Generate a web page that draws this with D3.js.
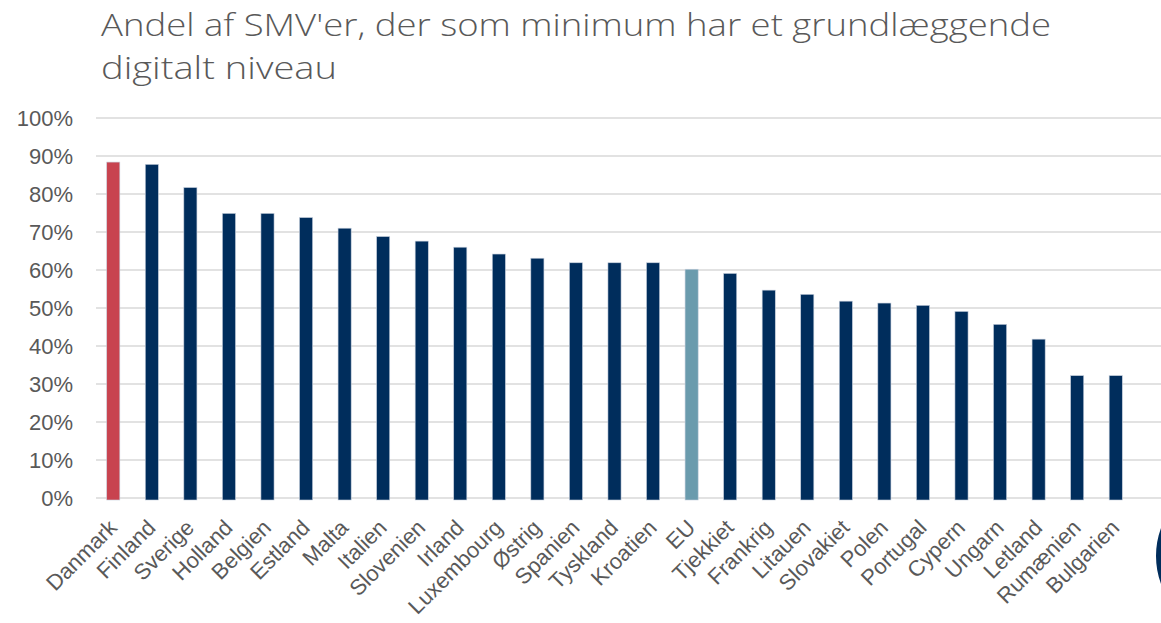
<!DOCTYPE html>
<html>
<head>
<meta charset="utf-8">
<script src="https://cdn.jsdelivr.net/npm/d3@7"></script>
<style>
  html, body { margin: 0; padding: 0; background: #fff; }
  svg { display: block; }
</style>
</head>
<body>
<div id="chart"></div>
<script>
// Share of SMEs with at least a basic level of digital intensity (%)
const countries = ["Danmark", "Finland", "Sverige", "Holland", "Belgien", "Estland", "Malta",
  "Italien", "Slovenien", "Irland", "Luxembourg", "Østrig", "Spanien", "Tyskland", "Kroatien",
  "EU", "Tjekkiet", "Frankrig", "Litauen", "Slovakiet", "Polen", "Portugal", "Cypern",
  "Ungarn", "Letland", "Rumænien", "Bulgarien"];
const shares = [88.4, 87.8, 81.7, 74.9, 74.9, 73.8, 71.0, 68.8, 67.6, 66.0, 64.2, 63.1, 61.9,
  61.9, 61.9, 60.2, 59.1, 54.7, 53.6, 51.8, 51.3, 50.7, 49.1, 45.7, 41.8, 32.2, 32.2];
const yTicks = [0, 10, 20, 30, 40, 50, 60, 70, 80, 90, 100];
const titleLines = ["Andel af SMV'er, der som minimum har et grundlæggende", "digitalt niveau"];

const W = 1161, H = 623;
const colors = { Danmark: "#c8434f", EU: "#6a9bad" };
const navy = "#002d5c";
const labelFont = "'Liberation Sans', Arial, sans-serif";

const svg = d3.select("#chart").append("svg").attr("width", W).attr("height", H);

// Title
const title = svg.append("g").attr("fill", "#595959")
  .style("font-family", "'Open Sans', 'Noto Sans', sans-serif")
  .style("font-weight", 300)
  .style("font-size", "31px");
title.append("text").attr("x", 101).attr("y", 36)
  .attr("textLength", 950).attr("lengthAdjust", "spacingAndGlyphs")
  .text(titleLines[0]);
title.append("text").attr("x", 101).attr("y", 79)
  .attr("textLength", 236).attr("lengthAdjust", "spacingAndGlyphs")
  .text(titleLines[1]);

const x = d3.scaleBand().domain(countries).range([94, 1135]).paddingInner(0.66).paddingOuter(0.33);
const y = d3.scaleLinear().domain([0, 100]).range([498, 118]);

// Gridlines
svg.append("g")
  .selectAll("line").data(yTicks).join("line")
  .attr("x1", 96).attr("x2", W)
  .attr("y1", d => y(d)).attr("y2", d => y(d))
  .attr("stroke", "#d9d9d9").attr("stroke-width", 1.5);

// Y axis labels
const yAxis = d3.axisLeft(y).tickValues(yTicks).tickFormat(d => d + "%").tickSize(0).tickPadding(0);
svg.append("g").attr("transform", "translate(73,0)").call(yAxis)
  .call(g => g.select(".domain").remove())
  .call(g => g.selectAll("text")
    .attr("fill", "#595959")
    .attr("dy", "0.36em")
    .style("font-family", labelFont)
    .style("font-size", "22px"));

// Bars
svg.append("g")
  .selectAll("rect").data(countries).join("rect")
  .attr("x", d => x(d))
  .attr("width", x.bandwidth())
  .attr("y", (d, i) => y(shares[i]))
  .attr("height", (d, i) => y(0) - y(shares[i]) + 2)
  .attr("fill", d => colors[d] || navy)
  .attr("stroke", "#c6cfdc").attr("stroke-width", 0.6);

// Category labels, rotated 45 degrees under each bar
const xAxis = d3.axisBottom(x).tickSize(0).tickPadding(0);
svg.append("g").attr("transform", "translate(0,529)").call(xAxis)
  .call(g => g.select(".domain").remove())
  .call(g => g.selectAll("text")
    .attr("y", 0).attr("dy", 0)
    .attr("transform", "translate(5,0) rotate(-45)")
    .attr("text-anchor", "end")
    .attr("fill", "#595959")
    .style("font-family", labelFont)
    .style("font-size", "22px"));

// Logo fragment at the right edge
svg.append("circle").attr("cx", 1237).attr("cy", 556).attr("r", 78)
  .attr("fill", "none").attr("stroke", navy).attr("stroke-width", 6);
</script>
</body>
</html>
